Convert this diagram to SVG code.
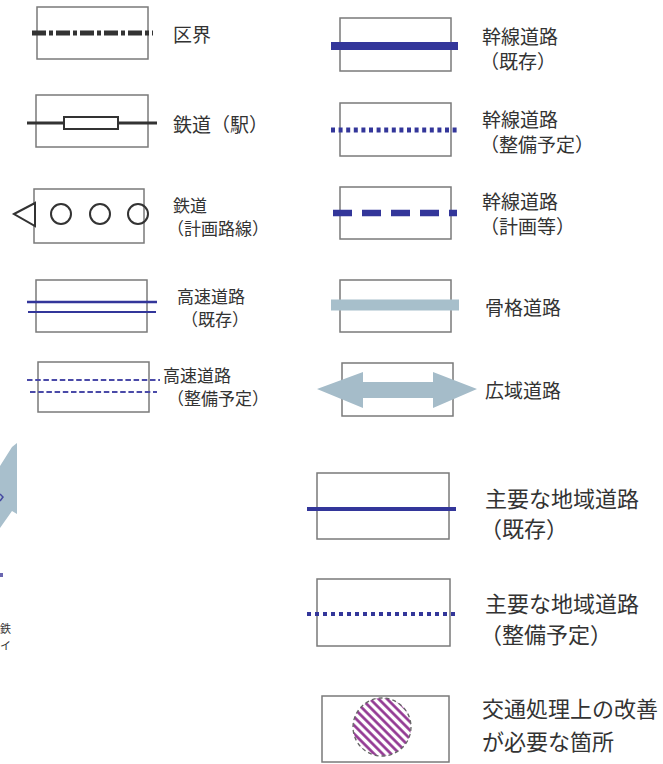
<svg xmlns="http://www.w3.org/2000/svg" width="663" height="764" viewBox="0 0 663 764">
<defs>
<style>
.box{fill:none;stroke:#7a7a7a;stroke-width:1.5}
.t{font-family:"Noto Sans CJK JP","Noto Sans",sans-serif;fill:#333;font-size:17px;dominant-baseline:central}
.tm{font-size:19px}
.tl{font-size:22px}
.blue{stroke:#33369a;fill:none}
.grey{stroke:#a7bfcb;fill:none}
</style>
<pattern id="hatch" width="6" height="6" patternUnits="userSpaceOnUse" patternTransform="rotate(-45)">
<rect width="6" height="6" fill="#fff"/>
<line x1="1.5" y1="0" x2="1.5" y2="6" stroke="#8e2f8e" stroke-width="2.6"/>
</pattern>
</defs>
<rect width="663" height="764" fill="#fff"/>

<g id="edge-residue">
<polygon points="0,466 12,447 17,443 17,514 12,511 0,528" fill="#a8bfcc"/>
<path d="M0,494 L3,497 L0,501" stroke="#4448a0" stroke-width="1.5" fill="none"/>
<rect x="0" y="573" width="3" height="4" fill="#6a66b0"/>
<text class="t" x="0" y="628" style="font-size:11px">鉄</text>
<text class="t" x="0" y="645" style="font-size:11px">イ</text>
</g>

<g id="kukai">
<rect class="box" x="37" y="7" width="111" height="52"/>
<line x1="32" y1="33" x2="153" y2="33" stroke="#333" stroke-width="5" stroke-dasharray="14 3 4 3"/>
<text class="t tm" x="173" y="33">区界</text>
</g>

<g id="tetsudo-eki">
<rect class="box" x="36" y="95" width="112" height="52"/>
<line x1="27" y1="123" x2="157" y2="123" stroke="#333" stroke-width="3"/>
<rect x="64" y="117" width="54" height="12" fill="#fff" stroke="#333" stroke-width="2"/>
<text class="t tm" x="173" y="123">鉄道（駅）</text>
</g>

<g id="tetsudo-keikaku">
<rect class="box" x="34" y="189" width="110" height="54"/>
<polygon points="14,214 35,203 35,226" fill="#fff" stroke="#333" stroke-width="2"/>
<circle cx="61" cy="214" r="10" fill="none" stroke="#333" stroke-width="2"/>
<circle cx="100" cy="214" r="10" fill="none" stroke="#333" stroke-width="2"/>
<circle cx="138" cy="214" r="10" fill="none" stroke="#333" stroke-width="2"/>
<text class="t" x="173" y="204">鉄道</text>
<text class="t" x="167" y="227">（計画路線）</text>
</g>

<g id="kosoku-kizon">
<rect class="box" x="36" y="280" width="111" height="52"/>
<line class="blue" x1="27" y1="302" x2="157" y2="302" stroke-width="2.5"/>
<line class="blue" x1="28" y1="312" x2="156" y2="312" stroke-width="2"/>
<text class="t" x="177" y="295.5">高速道路</text>
<text class="t" x="181" y="318.5">（既存）</text>
</g>

<g id="kosoku-seibi">
<rect class="box" x="38" y="362" width="111" height="50"/>
<line class="blue" x1="27" y1="380" x2="160" y2="380" stroke-width="1.8" stroke-dasharray="5.5 2.7" style="stroke:#4a4aa8"/>
<line class="blue" x1="30" y1="392" x2="157" y2="392" stroke-width="2" stroke-dasharray="5.5 2.7" style="stroke:#4a4aa8"/>
<text class="t" x="163" y="374">高速道路</text>
<text class="t" x="167" y="397">（整備予定）</text>
</g>

<g id="kansen-kizon">
<rect class="box" x="340" y="18" width="111" height="53"/>
<line class="blue" x1="331" y1="46" x2="458" y2="46" stroke-width="8"/>
<text class="t tm" x="482" y="35">幹線道路</text>
<text class="t tm" x="480" y="60">（既存）</text>
</g>

<g id="kansen-seibi">
<rect class="box" x="340" y="103" width="111" height="53"/>
<line class="blue" x1="331" y1="130" x2="460" y2="130" stroke-width="5" stroke-dasharray="4 3.6"/>
<text class="t tm" x="482" y="118">幹線道路</text>
<text class="t tm" x="480" y="143">（整備予定）</text>
</g>

<g id="kansen-keikaku">
<rect class="box" x="340" y="187" width="111" height="52"/>
<line class="blue" x1="333" y1="213" x2="457" y2="213" stroke-width="6.5" stroke-dasharray="19 10"/>
<text class="t tm" x="482" y="200">幹線道路</text>
<text class="t tm" x="480" y="225">（計画等）</text>
</g>

<g id="kokkaku">
<rect class="box" x="340" y="280" width="111" height="52"/>
<line class="grey" x1="331" y1="305" x2="459" y2="305" stroke-width="11"/>
<text class="t tm" x="485" y="306">骨格道路</text>
</g>

<g id="koiki">
<rect class="box" x="342" y="363" width="111" height="53"/>
<polygon points="317,389 363,372 363,382 433,382 433,372 477,389 433,408 433,398 363,398 363,408" fill="#a5bcc9"/>
<text class="t tm" x="485" y="389">広域道路</text>
</g>

<g id="chiiki-kizon">
<rect class="box" x="317" y="473" width="132" height="66"/>
<line class="blue" x1="307" y1="509" x2="456" y2="509" stroke-width="4"/>
<text class="t tl" x="485" y="497">主要な地域道路</text>
<text class="t tl" x="480" y="527">（既存）</text>
</g>

<g id="chiiki-seibi">
<rect class="box" x="317" y="579" width="133" height="67"/>
<line class="blue" x1="307" y1="614" x2="457" y2="614" stroke-width="4" stroke-dasharray="4 4"/>
<text class="t tl" x="485" y="602">主要な地域道路</text>
<text class="t tl" x="480" y="633">（整備予定）</text>
</g>

<g id="kaizen">
<rect class="box" x="322" y="696" width="127" height="66"/>
<circle cx="382" cy="727" r="29" fill="url(#hatch)" stroke="#666" stroke-width="1.3" stroke-dasharray="4 3"/>
<text class="t tl" x="482" y="707">交通処理上の改善</text>
<text class="t tl" x="482" y="740">が必要な箇所</text>
</g>
</svg>
